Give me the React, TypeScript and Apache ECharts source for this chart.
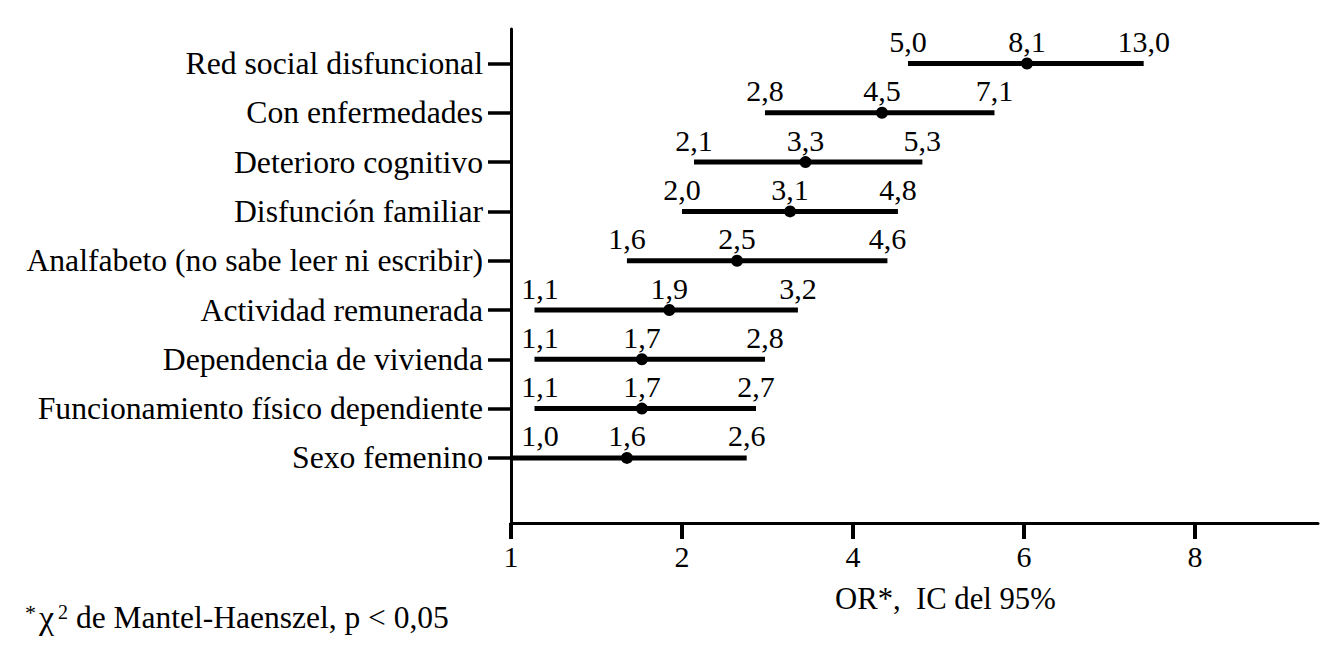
import React, { useEffect, useRef } from "react";
import * as echarts from "echarts";

// Rows from top to bottom
const categories = [
  "Red social disfuncional",
  "Con enfermedades",
  "Deterioro cognitivo",
  "Disfunción familiar",
  "Analfabeto (no sabe leer ni escribir)",
  "Actividad remunerada",
  "Dependencia de vivienda",
  "Funcionamiento físico dependiente",
  "Sexo femenino",
];
const lowerCI = [5.0, 2.8, 2.1, 2.0, 1.6, 1.1, 1.1, 1.1, 1.0];
const oddsRatio = [8.1, 4.5, 3.3, 3.1, 2.5, 1.9, 1.7, 1.7, 1.6];
const upperCI = [13.0, 7.1, 5.3, 4.8, 4.6, 3.2, 2.8, 2.7, 2.6];

// Axis ticks sit at doublings on a log2 scale; the printed labels are as in the original figure
const xTickValues = [1, 2, 4, 8, 16];
const xTickLabels = ["1", "2", "4", "6", "8"];

const axisTitle = "OR*,\u00a0 IC del 95%";
const FONT = '"Liberation Serif", "Times New Roman", serif';

const fmt = (v: number) => v.toFixed(1).replace(".", ",");

export default function App() {
  const ref = useRef<HTMLDivElement>(null);

  useEffect(() => {
    if (!ref.current) return;
    const chart = echarts.init(ref.current, undefined, { renderer: "svg" });
    const xTickPos = xTickValues.map((v) => Math.log2(v));
    const rowIdx = categories.map((_, i) => i);

    const option: any = {
      animation: false,
      backgroundColor: "#fff",
      grid: { left: 511, right: 22, top: 29, bottom: 143 },
      xAxis: {
        type: "value",
        min: 0,
        max: 4.72,
        axisLine: { show: true, onZero: false, lineStyle: { color: "#000", width: 3 } },
        axisTick: {
          show: true,
          customValues: xTickPos,
          length: 16,
          lineStyle: { color: "#000", width: 4 },
        },
        axisLabel: {
          customValues: xTickPos,
          margin: 18,
          color: "#000",
          fontSize: 30,
          fontFamily: FONT,
          formatter: (v: number) => {
            const k = xTickPos.findIndex((p) => Math.abs(p - v) < 1e-6);
            return k >= 0 ? xTickLabels[k] : "";
          },
        },
        splitLine: { show: false },
      },
      yAxis: {
        type: "value",
        inverse: true,
        min: -0.7,
        max: 9.32,
        axisLine: { show: true, onZero: false, lineStyle: { color: "#000", width: 3 } },
        axisTick: {
          show: true,
          customValues: rowIdx,
          length: 23,
          lineStyle: { color: "#000", width: 3.5 },
        },
        axisLabel: {
          customValues: rowIdx,
          margin: 28,
          color: "#000",
          fontSize: 31.7,
          fontFamily: FONT,
          formatter: (v: number) => categories[Math.round(v)] ?? "",
        },
        splitLine: { show: false },
      },
      series: [
        {
          type: "custom",
          clip: false,
          data: categories.map((_, i) => [
            Math.log2(lowerCI[i]),
            i,
            Math.log2(oddsRatio[i]),
            Math.log2(upperCI[i]),
          ]),
          encode: { x: [0, 2, 3], y: 1 },
          renderItem: (params: any, api: any) => {
            const i = params.dataIndex;
            const y = api.value(1);
            const pLo = api.coord([api.value(0), y]);
            const pOr = api.coord([api.value(2), y]);
            const pHi = api.coord([api.value(3), y]);
            const axisX = api.coord([0, y])[0];
            const ly = pLo[1] - 22;
            const txt = (x: number, t: string) => ({
              type: "text",
              x,
              y: ly,
              style: {
                text: t,
                fill: "#000",
                fontSize: 30,
                fontFamily: FONT,
                align: "center",
                verticalAlign: "middle",
              },
            });
            return {
              type: "group",
              children: [
                {
                  type: "line",
                  shape: { x1: pLo[0], y1: pLo[1], x2: pHi[0], y2: pHi[1] },
                  style: { stroke: "#000", lineWidth: 5 },
                },
                {
                  type: "circle",
                  shape: { cx: pOr[0], cy: pOr[1], r: 6 },
                  style: { fill: "#000" },
                },
                txt(Math.max(pLo[0], axisX + 29), fmt(lowerCI[i])),
                txt(pOr[0], fmt(oddsRatio[i])),
                txt(pHi[0], fmt(upperCI[i])),
              ],
            };
          },
        },
      ],
      graphic: [
        {
          type: "text",
          x: 835,
          y: 599,
          style: {
            text: axisTitle,
            fill: "#000",
            fontSize: 30.7,
            fontFamily: FONT,
            align: "left",
            verticalAlign: "middle",
          },
        },
        {
          type: "text",
          x: 25,
          y: 617,
          style: {
            text: "{a|*}{c|χ}{s|2}{n| de Mantel-Haenszel, p < 0,05}",
            fill: "#000",
            fontFamily: FONT,
            align: "left",
            verticalAlign: "middle",
            rich: {
              a: { fontSize: 22, fontFamily: FONT, fill: "#000", verticalAlign: "top", lineHeight: 24 },
              c: { fontSize: 34, fontFamily: FONT, fill: "#000", lineHeight: 31, padding: [0, 4, 0, 3] },
              s: { fontSize: 20, fontFamily: FONT, fill: "#000", verticalAlign: "top", lineHeight: 24 },
              n: { fontSize: 31.5, fontFamily: FONT, fill: "#000", lineHeight: 31 },
            },
          },
        },
      ],
    };

    chart.setOption(option);
    return () => chart.dispose();
  }, []);

  return (
    <div
      ref={ref}
      style={{ position: "fixed", left: 0, top: 0, width: 1340, height: 666, background: "#fff" }}
    />
  );
}
